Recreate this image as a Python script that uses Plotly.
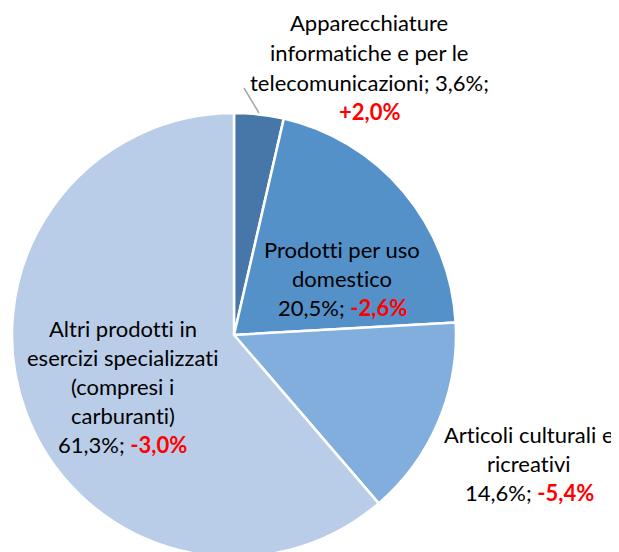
import plotly.graph_objects as go

# ---- data ----
categories = [
    "Apparecchiature informatiche e per le telecomunicazioni",
    "Prodotti per uso domestico",
    "Articoli culturali e ricreativi",
    "Altri prodotti in esercizi specializzati (compresi i carburanti)",
]
shares = [3.6, 20.5, 14.6, 61.3]
changes = ["+2,0%", "-2,6%", "-5,4%", "-3,0%"]
colors = ["#4777a9", "#5591c9", "#81aedc", "#b9cde8"]

W, H = 619, 552
OFF = 8  # default page body margin of the written html
FONT = "Lato"
FS = 22

def pct(v):
    return f"{v:.1f}".replace(".", ",") + "%"

def red(s):
    return f"<b><span style='color:#ff0000'>{s}</span></b>"

# label lines per category: (text lines, center x px, y px of each line) in page pixels
label_lines = [
    (["Apparecchiature", "informatiche e per le",
      f"telecomunicazioni; {pct(shares[0])};", red(changes[0])],
     369, [22, 52, 82, 111]),
    (["Prodotti per uso", "domestico",
      f"{pct(shares[1])}; " + red(changes[1])],
     342, [250, 278, 307]),
    (["Articoli culturali e", "ricreativi",
      f"{pct(shares[2])}; " + red(changes[2])],
     529, [434, 463, 492]),
    (["Altri prodotti in", "esercizi specializzati", "(compresi i",
      "carburanti)", f"{pct(shares[3])}; " + red(changes[3])],
     123, [328, 357, 386, 415, 444]),
]

def px(x):
    return (x - OFF) / W

def py(y):
    return 1 - (y - OFF) / H

def nolig(t):
    return f"<span style='font-variant-ligatures:none'>{t}</span>"

# pie geometry (page pixels)
cx, cy, r = 234, 335, 222

fig = go.Figure(go.Pie(
    labels=categories,
    values=shares,
    sort=False,
    direction="clockwise",
    rotation=0,
    marker=dict(colors=colors, line=dict(color="white", width=2.5)),
    textinfo="none",
    hoverinfo="skip",
    showlegend=False,
    domain=dict(x=[px(cx - r), px(cx + r)], y=[py(cy + r), py(cy - r)]),
))

annotations = []
for lines, x, ys in label_lines:
    for t, y in zip(lines, ys):
        annotations.append(dict(
            text=nolig(t), x=px(x), y=py(y), xref="paper", yref="paper",
            xanchor="center", yanchor="middle", showarrow=False,
            font=dict(family=FONT, size=FS, color="#000000"),
        ))

fig.update_layout(
    width=W, height=H,
    margin=dict(l=0, r=0, t=0, b=0),
    paper_bgcolor="white", plot_bgcolor="white",
    annotations=annotations,
    shapes=[dict(type="line", xref="paper", yref="paper",
                 x0=px(244), y0=py(88), x1=px(259), y1=py(113),
                 line=dict(color="#a6a6a6", width=1.5))],
)

fig.write_html("out.html")
